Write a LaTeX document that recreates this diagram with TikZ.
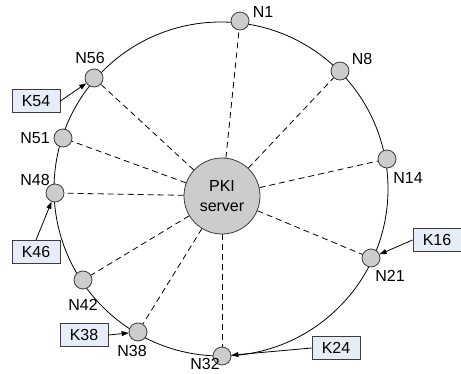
\documentclass[tikz,border=0pt]{standalone}
\usepackage{fontspec}
\setmainfont{Liberation Sans}
\usetikzlibrary{arrows.meta}
\definecolor{nodegray}{RGB}{204,204,204}
\definecolor{boxblue}{RGB}{230,237,248}
\definecolor{edgegray}{RGB}{60,60,60}
\begin{document}
\begin{tikzpicture}[x=1pt,y=-1pt,
  peer/.style={circle,draw=edgegray,fill=nodegray,line width=0.8pt,minimum size=18pt,inner sep=0pt},
  server/.style={circle,draw=edgegray,fill=nodegray,line width=0.8pt,minimum size=76pt,inner sep=0pt,align=center,font=\fontsize{16}{20}\selectfont},
  keybox/.style={rectangle,draw=edgegray,fill=boxblue,line width=0.8pt,minimum width=48pt,minimum height=23pt,inner sep=0pt,font=\fontsize{16}{19}\selectfont},
  lbl/.style={inner sep=0pt,font=\fontsize{16}{19}\selectfont},
  ring/.style={line width=0.8pt},
  spoke/.style={line width=0.8pt,dash pattern=on 6pt off 4pt},
  keyarrow/.style={line width=0.8pt,-{Triangle[length=7pt,width=5pt]}}
]
\useasboundingbox (0,0) rectangle (461,373);
\coordinate (c) at (221,189);
\draw[ring] (c) circle[radius=167];
\node[server] (srv) at (222,196) {PKI\\server};
\node[peer] (n1) at (240,21) {};
\node[peer] (n8) at (340,71) {};
\node[peer] (n14) at (387,159) {};
\node[peer] (n21) at (371,258) {};
\node[peer] (n32) at (222,356) {};
\node[peer] (n38) at (138,332) {};
\node[peer] (n42) at (83,280) {};
\node[peer] (n48) at (55,193) {};
\node[peer] (n51) at (63,138) {};
\node[peer] (n56) at (94,78) {};
\foreach \n in {n1,n8,n14,n21,n32,n38,n42,n48,n51,n56}
  \draw[spoke] (srv) -- (\n);
\node[lbl] (l1) at (263,12) {N1};
\node[lbl] (l8) at (362,59) {N8};
\node[lbl] (l14) at (408,178) {N14};
\node[lbl] (l21) at (390,276) {N21};
\node[lbl] (l32) at (205,364) {N32};
\node[lbl] (l38) at (132,351) {N38};
\node[lbl] (l42) at (83,305) {N42};
\node[lbl] (l48) at (35,180) {N48};
\node[lbl] (l51) at (35,138) {N51};
\node[lbl] (l56) at (90,58) {N56};
\node[keybox] (k54) at (36,101) {K54};
\node[keybox] (k46) at (36,252) {K46};
\node[keybox] (k38) at (84,335) {K38};
\node[keybox] (k16) at (437,240) {K16};
\node[keybox] (k24) at (336,348) {K24};
\draw[keyarrow] (k54.east) -- (n56);
\draw[keyarrow] (k46.north) -- (n48);
\draw[keyarrow] (k38.east) -- (n38);
\draw[keyarrow] (k16.west) -- (n21);
\draw[keyarrow] (k24.west) -- (n32);
\end{tikzpicture}
\end{document}
